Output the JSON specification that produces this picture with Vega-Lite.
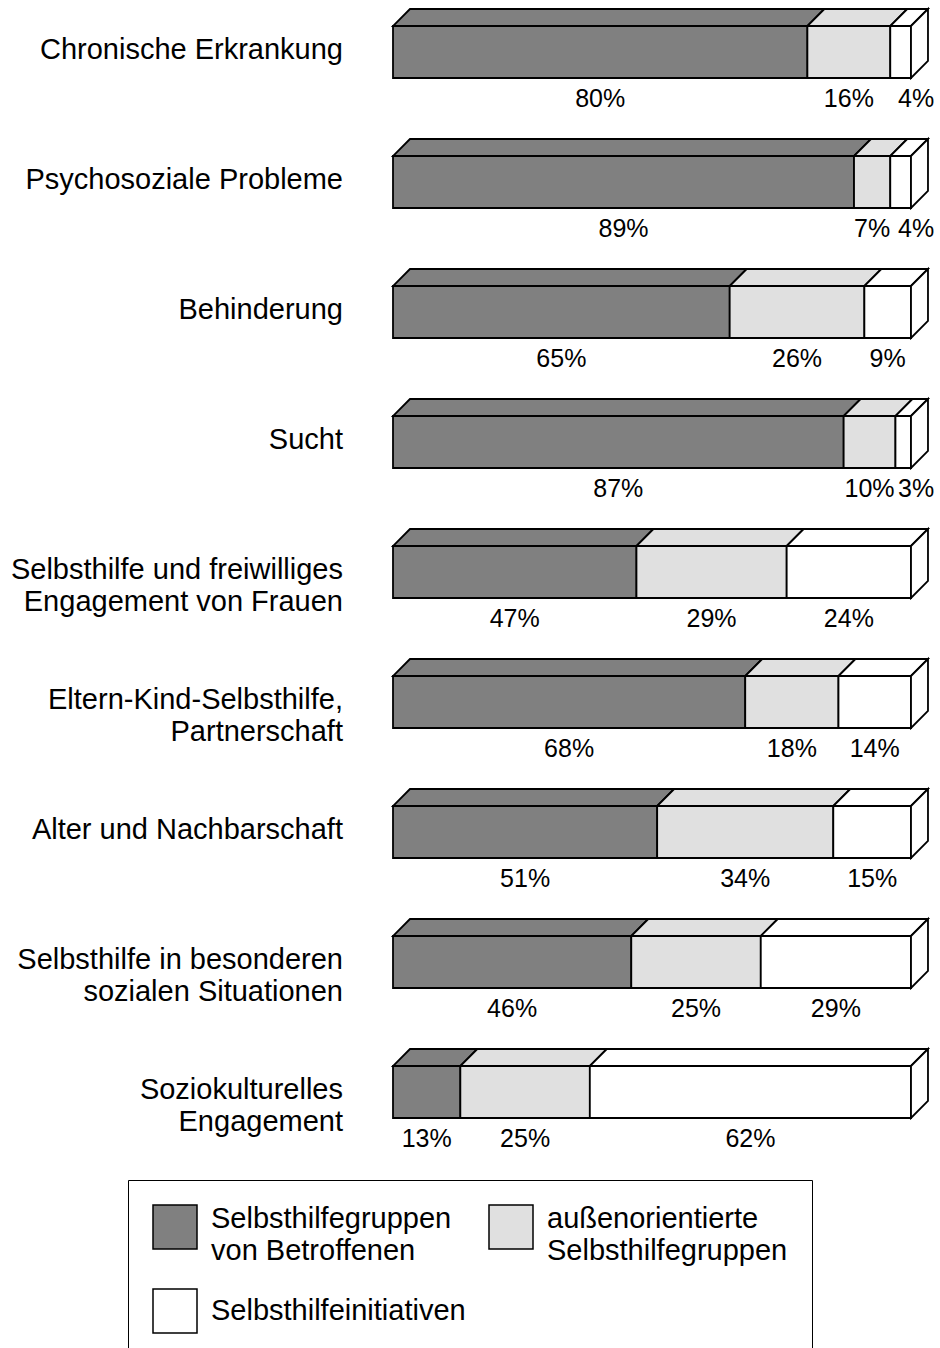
{
  "$schema": "https://vega.github.io/schema/vega-lite/v6.json",
  "width": 940,
  "height": 1348,
  "padding": 0,
  "autosize": {"type": "none"},
  "background": "white",
  "config": {"view": {"stroke": null}, "font": "Liberation Sans"},
  "data": {
    "values": [
      {"kat": "Chronische Erkrankung", "gruppe": "Selbsthilfegruppen von Betroffenen", "pct": 80},
      {"kat": "Chronische Erkrankung", "gruppe": "außenorientierte Selbsthilfegruppen", "pct": 16},
      {"kat": "Chronische Erkrankung", "gruppe": "Selbsthilfeinitiativen", "pct": 4},
      {"kat": "Psychosoziale Probleme", "gruppe": "Selbsthilfegruppen von Betroffenen", "pct": 89},
      {"kat": "Psychosoziale Probleme", "gruppe": "außenorientierte Selbsthilfegruppen", "pct": 7},
      {"kat": "Psychosoziale Probleme", "gruppe": "Selbsthilfeinitiativen", "pct": 4},
      {"kat": "Behinderung", "gruppe": "Selbsthilfegruppen von Betroffenen", "pct": 65},
      {"kat": "Behinderung", "gruppe": "außenorientierte Selbsthilfegruppen", "pct": 26},
      {"kat": "Behinderung", "gruppe": "Selbsthilfeinitiativen", "pct": 9},
      {"kat": "Sucht", "gruppe": "Selbsthilfegruppen von Betroffenen", "pct": 87},
      {"kat": "Sucht", "gruppe": "außenorientierte Selbsthilfegruppen", "pct": 10},
      {"kat": "Sucht", "gruppe": "Selbsthilfeinitiativen", "pct": 3},
      {"kat": "Selbsthilfe und freiwilliges\nEngagement von Frauen", "gruppe": "Selbsthilfegruppen von Betroffenen", "pct": 47},
      {"kat": "Selbsthilfe und freiwilliges\nEngagement von Frauen", "gruppe": "außenorientierte Selbsthilfegruppen", "pct": 29},
      {"kat": "Selbsthilfe und freiwilliges\nEngagement von Frauen", "gruppe": "Selbsthilfeinitiativen", "pct": 24},
      {"kat": "Eltern-Kind-Selbsthilfe,\nPartnerschaft", "gruppe": "Selbsthilfegruppen von Betroffenen", "pct": 68},
      {"kat": "Eltern-Kind-Selbsthilfe,\nPartnerschaft", "gruppe": "außenorientierte Selbsthilfegruppen", "pct": 18},
      {"kat": "Eltern-Kind-Selbsthilfe,\nPartnerschaft", "gruppe": "Selbsthilfeinitiativen", "pct": 14},
      {"kat": "Alter und Nachbarschaft", "gruppe": "Selbsthilfegruppen von Betroffenen", "pct": 51},
      {"kat": "Alter und Nachbarschaft", "gruppe": "außenorientierte Selbsthilfegruppen", "pct": 34},
      {"kat": "Alter und Nachbarschaft", "gruppe": "Selbsthilfeinitiativen", "pct": 15},
      {"kat": "Selbsthilfe in besonderen\nsozialen Situationen", "gruppe": "Selbsthilfegruppen von Betroffenen", "pct": 46},
      {"kat": "Selbsthilfe in besonderen\nsozialen Situationen", "gruppe": "außenorientierte Selbsthilfegruppen", "pct": 25},
      {"kat": "Selbsthilfe in besonderen\nsozialen Situationen", "gruppe": "Selbsthilfeinitiativen", "pct": 29},
      {"kat": "Soziokulturelles\nEngagement", "gruppe": "Selbsthilfegruppen von Betroffenen", "pct": 13},
      {"kat": "Soziokulturelles\nEngagement", "gruppe": "außenorientierte Selbsthilfegruppen", "pct": 25},
      {"kat": "Soziokulturelles\nEngagement", "gruppe": "Selbsthilfeinitiativen", "pct": 62}
    ]
  },
  "transform": [
    {"window": [{"op": "row_number", "as": "rn"}]},
    {"calculate": "floor((datum.rn - 1) / 3)", "as": "ci"},
    {"calculate": "(datum.rn - 1) % 3", "as": "gi"},
    {"stack": "pct", "groupby": ["kat"], "sort": [{"field": "gi", "order": "ascending"}], "as": ["s0", "s1"]},
    {"calculate": "datum.ci + 0.4", "as": "yb"},
    {"calculate": "datum.ci + 0.2", "as": "ym"},
    {"calculate": "datum.gi == 2 && datum.pct < 5 ? datum.s1 + 1 : (datum.s0 + datum.s1) / 2", "as": "xm"},
    {"calculate": "datum.pct + '%'", "as": "lab"}
  ],
  "layer": [
    {
      "transform": [
        {"calculate": "[0, 1]", "as": "lv"},
        {"flatten": ["lv"]},
        {"calculate": "datum.ci - 0.1308 * datum.lv", "as": "ty"},
        {"calculate": "datum.s0 + 3.28 * datum.lv", "as": "tx0"},
        {"calculate": "datum.s1 + 3.28 * datum.lv", "as": "tx1"}
      ],
      "mark": {"type": "area", "orient": "horizontal", "stroke": "black", "strokeWidth": 1.8, "opacity": 1, "strokeJoin": "miter"},
      "encoding": {
        "y": {"field": "ty", "type": "quantitative", "axis": null, "scale": {"domain": [-0.2, 10.1692], "reverse": true, "nice": false, "zero": false}},
        "x": {"field": "tx0", "type": "quantitative", "axis": null, "stack": null, "scale": {"domain": [-75.87, 105.6], "nice": false, "zero": false}},
        "x2": {"field": "tx1"},
        "detail": {"field": "rn"},
        "color": {"field": "gruppe", "type": "nominal", "scale": {"domain": ["Selbsthilfegruppen von Betroffenen", "außenorientierte Selbsthilfegruppen", "Selbsthilfeinitiativen"], "range": ["#808080", "#e0e0e0", "#ffffff"]}}
      }
    },
    {
      "mark": {"type": "bar", "stroke": "black", "strokeWidth": 1.8, "opacity": 1},
      "encoding": {
        "y": {"field": "ci", "type": "quantitative", "axis": null, "scale": {"domain": [-0.2, 10.1692], "reverse": true, "nice": false, "zero": false}},
        "y2": {"field": "yb"},
        "x": {"field": "s0", "type": "quantitative", "axis": null, "stack": null, "scale": {"domain": [-75.87, 105.6], "nice": false, "zero": false}},
        "x2": {"field": "s1"},
        "color": {
          "field": "gruppe",
          "type": "nominal",
          "scale": {"domain": ["Selbsthilfegruppen von Betroffenen", "außenorientierte Selbsthilfegruppen", "Selbsthilfeinitiativen"], "range": ["#808080", "#e0e0e0", "#ffffff"]},
          "legend": {
            "orient": "none",
            "legendX": 128,
            "legendY": 1180,
            "direction": "horizontal",
            "columns": 2,
            "gridAlign": "all",
            "title": null,
            "symbolType": "square",
            "symbolSize": 1936,
            "symbolStrokeColor": "black",
            "symbolStrokeWidth": 1.5,
            "symbolOpacity": 1,
            "labelFontSize": 29,
            "labelFont": "Liberation Sans",
            "labelColor": "black",
            "labelOffset": 13,
            "labelLimit": 500,
            "columnPadding": 20,
            "rowPadding": 20,
            "padding": 24,
            "strokeColor": "black",
            "fillColor": "white",
            "labelExpr": "split(replace(datum.label, ' ', '|'), '|')",
            "encode": {
              "labels": {
                "update": {
                  "lineHeight": {"value": 32},
                  "dy": {"signal": "indexof(datum.label, ' ') > 0 ? -8 : 0"}
                }
              }
            }
          }
        }
      }
    },
    {
      "transform": [
        {"filter": "datum.gi == 2"},
        {"calculate": "[0, 1]", "as": "lv"},
        {"flatten": ["lv"]},
        {"calculate": "datum.s1 + 3.28 * datum.lv", "as": "rx"},
        {"calculate": "datum.ci - 0.1308 * datum.lv", "as": "ry0"},
        {"calculate": "datum.yb - 0.1308 * datum.lv", "as": "ry1"}
      ],
      "mark": {"type": "area", "orient": "vertical", "stroke": "black", "strokeWidth": 1.8, "opacity": 1, "strokeJoin": "miter"},
      "encoding": {
        "x": {"field": "rx", "type": "quantitative", "axis": null, "scale": {"domain": [-75.87, 105.6], "nice": false, "zero": false}},
        "y": {"field": "ry0", "type": "quantitative", "axis": null, "stack": null, "scale": {"domain": [-0.2, 10.1692], "reverse": true, "nice": false, "zero": false}},
        "y2": {"field": "ry1"},
        "detail": {"field": "rn"},
        "color": {"field": "gruppe", "type": "nominal", "scale": {"domain": ["Selbsthilfegruppen von Betroffenen", "außenorientierte Selbsthilfegruppen", "Selbsthilfeinitiativen"], "range": ["#808080", "#e0e0e0", "#ffffff"]}}
      }
    },
    {
      "transform": [{"filter": "datum.gi == 0"}],
      "mark": {"type": "text", "align": "right", "baseline": "middle", "dx": -50, "dy": -2, "fontSize": 29, "font": "Liberation Sans", "color": "black", "lineBreak": "\n", "lineHeight": 32},
      "encoding": {
        "x": {"datum": 0, "type": "quantitative", "axis": null, "scale": {"domain": [-75.87, 105.6], "nice": false, "zero": false}},
        "y": {"field": "ym", "type": "quantitative", "axis": null, "scale": {"domain": [-0.2, 10.1692], "reverse": true, "nice": false, "zero": false}},
        "text": {"field": "kat"}
      }
    },
    {
      "mark": {"type": "text", "align": "center", "baseline": "middle", "dy": 21, "fontSize": 25, "font": "Liberation Sans", "color": "black"},
      "encoding": {
        "x": {"field": "xm", "type": "quantitative", "axis": null, "scale": {"domain": [-75.87, 105.6], "nice": false, "zero": false}},
        "y": {"field": "yb", "type": "quantitative", "axis": null, "scale": {"domain": [-0.2, 10.1692], "reverse": true, "nice": false, "zero": false}},
        "text": {"field": "lab"}
      }
    }
  ]
}
